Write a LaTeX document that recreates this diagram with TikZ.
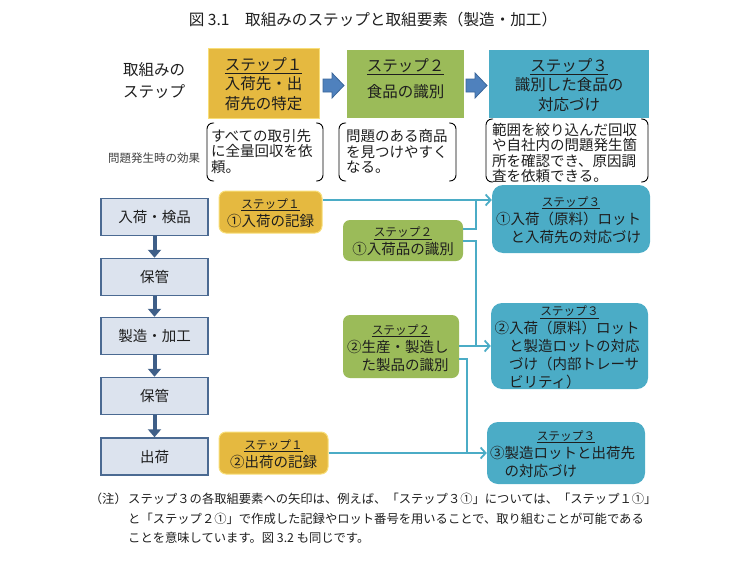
\documentclass[tikz,border=0pt]{standalone}
\usepackage{fontspec}
\setmainfont{Noto Sans CJK JP}
\usetikzlibrary{arrows.meta,calc}
\definecolor{cyel}{HTML}{E5B940}
\definecolor{cyelb}{HTML}{F8DE78}
\definecolor{cgrn}{HTML}{9BBB59}
\definecolor{cteal}{HTML}{4BACC6}
\definecolor{cblue}{HTML}{4F81BD}
\definecolor{cblueb}{HTML}{3B679A}
\definecolor{cflowf}{HTML}{DCE3EE}
\definecolor{cflowb}{HTML}{4B6A92}
\definecolor{cflowa}{HTML}{3F5F88}
\definecolor{ctxt}{HTML}{1E1E1E}
\newcommand\hdrf{\fontsize{11.7}{14}\selectfont}
\newcommand\bodyf{\fontsize{14.5}{18}\selectfont}
\begin{document}
\begin{tikzpicture}[x=1pt,y=-1pt,
  every node/.style={text=ctxt, inner sep=0pt},
  yelbox/.style={fill=cyel, draw=cyelb, line width=1pt},
  grnbox/.style={fill=cgrn},
  tealbox/.style={fill=cteal},
  smallr/.style={rounded corners=7pt},
  bigr/.style={rounded corners=11pt},
  toptxt/.style={align=center, font=\fontsize{15.5}{19.5}\selectfont},
  txt/.style={align=center, font=\bodyf},
  txtl/.style={align=left, font=\bodyf},
  flow/.style={draw=cflowb, line width=1.5pt, fill=cflowf, minimum width=107pt, minimum height=37pt, font=\bodyf},
  flowarr/.style={draw=cflowa, line width=4pt, -{Triangle[length=8pt,width=13pt]}},
  blockarr/.style={fill=cblue, draw=cblueb, line width=0.8pt},
  brk/.style={draw=black, line width=0.9pt, rounded corners=6pt},
  efftxt/.style={align=left, font=\fontsize{14.5}{15.5}\selectfont},
  conn/.style={draw=cteal, line width=1.8pt},
  connarr/.style={conn, -{Straight Barb[length=5pt,width=11pt]}},
  note/.style={align=left, font=\fontsize{12.3}{19.5}\selectfont}
]
\useasboundingbox (0,0) rectangle (749,562);

% title
\node[font=\fontsize{15.6}{18}\selectfont] (title) at (373,20) {図 3.1　取組みのステップと取組要素（製造・加工）};

% top row
\node[align=left, font=\fontsize{15.5}{22}\selectfont] (toplbl) at (154,81) {取組みの\\ステップ};
\node[yelbox, minimum width=111pt, minimum height=70pt] (top1) at (263.5,83) {};
\node[grnbox, minimum width=117pt, minimum height=68pt] (top2) at (405.5,84) {};
\node[tealbox, minimum width=160pt, minimum height=68pt] (top3) at (569,84) {};
\node[toptxt] (top1t) at (263.5,84) {\underline{ステップ１}\\入荷先・出\\荷先の特定};
\node[toptxt] (top2t) at (405.5,79) {\underline{ステップ２}\\[6.5pt]食品の識別};
\node[toptxt] (top3t) at (569,85) {\underline{ステップ３}\\識別した食品の\\対応づけ};
\draw[blockarr] (323,79) -- (332,79) -- (332,73) -- (344,85.5) -- (332,98) -- (332,92) -- (323,92) -- cycle;
\draw[blockarr] (466,79) -- (475,79) -- (475,73) -- (487,85.5) -- (475,98) -- (475,92) -- (466,92) -- cycle;

% effects
\node[font=\fontsize{11.5}{14}\selectfont, text=black!75] (efflbl) at (154,158) {問題発生時の効果};
\draw[brk] (214,123) -- (207,123) -- (207,181) -- (214,181);
\draw[brk] (316,123) -- (323,123) -- (323,181) -- (316,181);
\node[efftxt, anchor=west] (eff1) at (211,151.5) {すべての取引先\\に全量回収を依\\頼。};
\draw[brk] (346,123) -- (339,123) -- (339,181) -- (346,181);
\draw[brk] (449,123) -- (456,123) -- (456,181) -- (449,181);
\node[efftxt, anchor=west] (eff2) at (346,151.5) {問題のある商品\\を見つけやすく\\なる。};
\draw[brk] (493,119) -- (486,119) -- (486,182) -- (493,182);
\draw[brk] (641,119) -- (648,119) -- (648,182) -- (641,182);
\node[efftxt, anchor=west] (eff3) at (492,153) {範囲を絞り込んだ回収\\や自社内の問題発生箇\\所を確認でき、原因調\\査を依頼できる。};

% flow column
\node[flow] (f1) at (154.5,217) {入荷・検品};
\node[flow] (f2) at (154.5,277) {保管};
\node[flow] (f3) at (154.5,336) {製造・加工};
\node[flow] (f4) at (154.5,396) {保管};
\node[flow] (f5) at (154.5,456.5) {出荷};
\draw[flowarr] (f1) -- (f2);
\draw[flowarr] (f2) -- (f3);
\draw[flowarr] (f3) -- (f4);
\draw[flowarr] (f4) -- (f5);

% step element boxes
\node[yelbox, smallr, minimum width=103pt, minimum height=42pt] (s1a) at (270.5,212) {};
\node[txt] (s1at) at (270.5,213) {{\hdrf\underline{ステップ１}}\\①入荷の記録};
\node[grnbox, smallr, minimum width=120pt, minimum height=41pt] (s2a) at (403,240.5) {};
\node[txt] (s2at) at (403,241.5) {{\hdrf\underline{ステップ２}}\\①入荷品の識別};
\node[tealbox, bigr, minimum width=158pt, minimum height=68pt] (s3a) at (571,219) {};
\node[txtl, text width=150pt] (s3at) at (571,220) {\makebox[\linewidth][c]{\hdrf\underline{ステップ３}}\\①入荷（原料）ロット\\\hspace*{1em}と入荷先の対応づけ};
\node[grnbox, smallr, minimum width=116pt, minimum height=63pt] (s2b) at (401,346.5) {};
\node[txtl, text width=108pt] (s2bt) at (401,348) {\makebox[\linewidth][c]{\hdrf\underline{ステップ２}}\\②生産・製造し\\\hspace*{1em}た製品の識別};
\node[tealbox, bigr, minimum width=157pt, minimum height=86pt] (s3b) at (569.5,346) {};
\node[txtl, text width=150pt] (s3bt) at (569.5,347.5) {\makebox[\linewidth][c]{\hdrf\underline{ステップ３}}\\②入荷（原料）ロット\\\hspace*{1em}と製造ロットの対応\\\hspace*{1em}づけ（内部トレーサ\\\hspace*{1em}ビリティ）};
\node[tealbox, bigr, minimum width=158pt, minimum height=62pt] (s3c) at (566,453) {};
\node[txtl, text width=152pt] (s3ct) at (566,454) {\makebox[\linewidth][c]{\hdrf\underline{ステップ３}}\\③製造ロットと出荷先\\\hspace*{1em}の対応づけ};
\node[yelbox, smallr, minimum width=109pt, minimum height=42pt] (s1b) at (273.5,453) {};
\node[txt] (s1bt) at (273.5,454) {{\hdrf\underline{ステップ１}}\\②出荷の記録};

% connectors
\coordinate (j1) at (476,200);
\coordinate (j2) at (476,346);
\coordinate (j3) at (467,453);
\draw[connarr] ([yshift=12pt]s1a.east) -- (s3a.west |- j1);
\draw[conn] ([yshift=11.5pt]s2a.east) -| (j1);
\draw[conn] ([yshift=-0.5pt]s2a.east) -| (j2);
\draw[connarr] (j2) -- (s3b.west |- j2);
\draw[conn] (s2b.east |- j2) -- (j2);
\draw[conn] ([yshift=-12.5pt]s2b.east) -| (j3);
\draw[connarr] (s1b.east |- j3) -- (s3c.west |- j3);

% note
\node[note, anchor=east] (notehd) at (127,499) {（注）};
\node[note, anchor=west] (notebody) at (128,518.5) {ステップ３の各取組要素への矢印は、例えば、「ステップ３①」については、「ステップ１①」\\と「ステップ２①」で作成した記録やロット番号を用いることで、取り組むことが可能である\\ことを意味しています。図 3.2 も同じです。};
\end{tikzpicture}
\end{document}
